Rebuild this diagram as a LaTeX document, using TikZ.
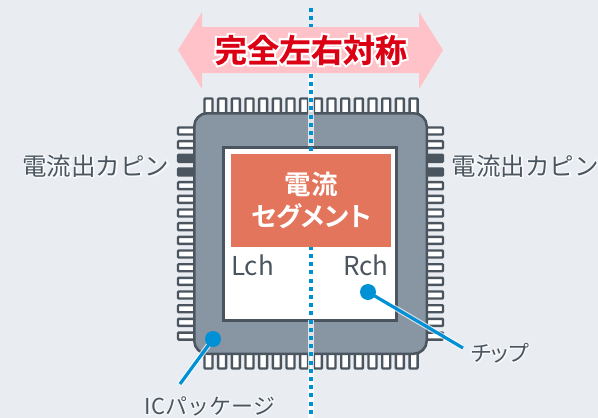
\documentclass[tikz,border=0pt]{standalone}
\usepackage{fontspec}
\setmainfont{Noto Sans CJK JP}
\newfontfamily\jpb{Noto Sans CJK JP Bold}
\newfontfamily\jpp[RawFeature=+palt]{Noto Sans CJK JP}
\newfontfamily\jpbp[RawFeature=+palt]{Noto Sans CJK JP Bold}
\newfontfamily\jpheavy[FakeBold=0.6]{Noto Sans CJK JP Bold}
\newfontfamily\jpglow[FakeBold=14]{Noto Sans CJK JP Bold}
\newfontfamily\jpglowr[FakeBold=10]{Noto Sans CJK JP}
\newfontfamily\jpglowp[FakeBold=10,RawFeature=+palt]{Noto Sans CJK JP}
\definecolor{bgc}{HTML}{E9EDF1}
\definecolor{pkgc}{HTML}{8895A2}
\definecolor{darkc}{HTML}{4B555F}
\definecolor{orangec}{HTML}{E2755B}
\definecolor{bluec}{HTML}{0090D5}
\definecolor{redc}{HTML}{DC0014}
\definecolor{pinkc}{HTML}{FFC2C8}
\colorlet{softw}{white!70!bgc}
\newcommand{\halotext}[1]{\rlap{\color{softw}\jpglowr #1}#1}
\newcommand{\halotextp}[1]{\rlap{\color{softw}\jpglowp #1}#1}
\tikzset{
  x=1pt,y=-1pt,
  pinbox/.style={draw=darkc,line width=2.4pt,fill=white,rounded corners=0.8pt},
  pindark/.style={draw=darkc,line width=2.4pt,fill=darkc,rounded corners=0.8pt},
  lbl/.style={inner sep=0pt,text=darkc,font=\fontsize{24.5}{24.5}\selectfont},
  latin/.style={inner sep=0pt,text=darkc,font=\fontsize{26}{26}\selectfont},
  leader/.style={draw=bluec,line width=3.2pt},
  halo/.style={draw=white,line width=6pt,opacity=.75},
  dotc/.style={circle,fill=bluec,minimum size=16pt,inner sep=0pt},
}
\begin{document}
\begin{tikzpicture}
\useasboundingbox[fill=bgc] (0,0) rectangle (598,418);
% pins
\foreach \i in {0,...,15}{
  \pgfmathsetmacro{\p}{\i*13.67}
  \draw[pinbox] ({204.5+\p},98.5) rectangle ({212.5+\p},118);
  \draw[pinbox] ({204.5+\p},350) rectangle ({212.5+\p},368.5);
  \ifnum\i=2 \def\st{pindark}\else\ifnum\i=3 \def\st{pindark}\else\def\st{pinbox}\fi\fi
  \draw[\st] (178,{127.5+\p}) rectangle (198,{134.5+\p});
  \draw[\st] (423,{127.5+\p}) rectangle (443,{134.5+\p});
}
% package
\node[draw=darkc,line width=2.5pt,fill=pkgc,rounded corners=13pt,minimum width=232.5pt,minimum height=240.5pt,inner sep=0pt,anchor=north west] (pkg) at (193,112) {};
% chip
\node[draw=darkc,line width=2.5pt,fill=white,minimum width=173pt,minimum height=173pt,inner sep=0pt,anchor=north west] (chip) at (222,146) {};
% symmetry line
\coordinate (st) at (311,8);
\coordinate (en) at (311,418);
\draw[halo] (311,26)--(311,146);
\draw[halo] (311,320)--(en);
\draw[bluec,line width=4pt,dash pattern=on 4pt off 4.2pt] (st)--(en);
% segment
\node[fill=orangec,minimum width=160pt,minimum height=93pt,inner sep=0pt,anchor=north west,align=center,text=white,font=\jpbp\fontsize{26.5}{33}\selectfont] (seg) at (231,154) {\raisebox{-2pt}{電流}\\\raisebox{-1pt}{セグメント}};
% arrow
\fill[pinkc] (178,50)--(202,12)--(202,27)--(419,27)--(419,12)--(443,50)--(419,89)--(419,73)--(202,73)--(202,89)--cycle;
\node[inner sep=0pt,font=\fontsize{32}{32}\selectfont] (title) at (311,50) {\rlap{\color{white}\jpglow 完全左右対称}{\color{redc}\jpheavy 完全左右対称}};
% labels
\node[lbl] (l1) at (96,166) {\halotext{電流出カピン}};
\node[lbl] (l2) at (525,166) {\halotext{電流出カピン}};
\node[latin] (lch) at (252.5,265) {Lch};
\node[latin] (rch) at (366,265) {Rch};
\node[inner sep=0pt,text=darkc,font=\jpp\fontsize{22}{22}\selectfont] (chiplbl) at (500,353) {\halotextp{チップ}};
\node[inner sep=0pt,text=darkc,font=\fontsize{22}{22}\selectfont] (icl) at (210,406) {\halotext{ICパッケージ}};
% leaders
\node[dotc] (d1) at (368,292) {};
\node[dotc] (d2) at (213,339) {};
\coordinate (e1) at (463,348);
\coordinate (e2) at (180,384);
\draw[white,line width=5.5pt,opacity=.7,shorten <=8pt] (d1.center)--(e1);
\draw[white,line width=5.5pt,opacity=.7,shorten <=8pt] (d2.center)--(e2);
\draw[leader] (d1.center)--(e1);
\draw[leader] (d2.center)--(e2);
\end{tikzpicture}
\end{document}
